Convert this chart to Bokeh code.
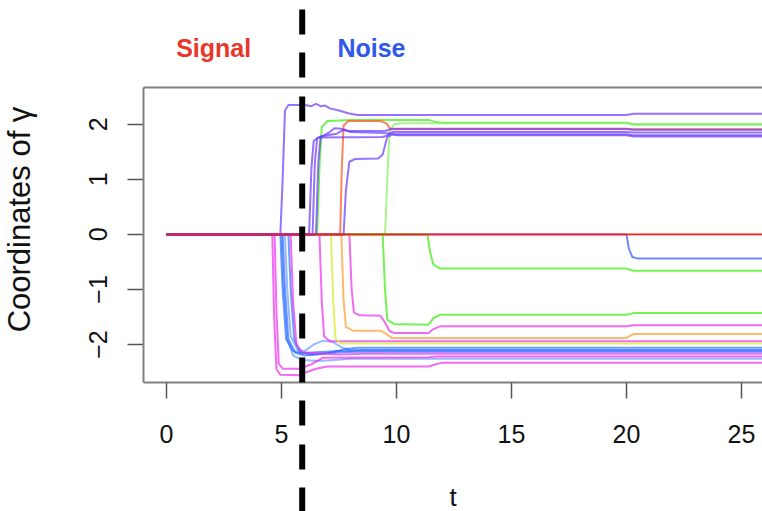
from bokeh.plotting import figure
from bokeh.models import Range1d, FixedTicker, LinearAxis, Span, Label
from bokeh.embed import file_html
from bokeh.resources import INLINE

FONT = "Liberation Sans"

# ---------------- data ----------------
x_ticks = [0, 5, 10, 15, 20, 25]
y_ticks = [-2, -1, 0, 1, 2]
split_t = 5.9            # signal / noise boundary

zero_t = [0, 26]
zero_y = [0, 0]

purple_paths = [
    ([0, 4.95, 5.05, 5.15, 5.3, 6.0, 6.3, 6.5, 6.7, 6.9, 7.1, 7.5, 7.9, 8.3, 20.0, 20.3, 26],
     [0, 0, 1.0, 2.25, 2.35, 2.35, 2.33, 2.37, 2.33, 2.34, 2.29, 2.25, 2.20, 2.17, 2.17, 2.19, 2.19]),
    ([0, 6.2, 6.3, 6.4, 6.6, 9.4, 9.6, 9.8, 20.0, 20.3, 26],
     [0, 0, 1.2, 1.70, 1.76, 1.77, 1.80, 1.86, 1.86, 1.85, 1.85]),
    ([0, 6.35, 6.45, 6.55, 6.8, 7.1, 7.3, 7.6, 7.9, 9.5, 9.8, 20.0, 20.3, 26],
     [0, 0, 1.3, 1.75, 1.79, 1.86, 1.93, 1.92, 1.88, 1.88, 1.92, 1.92, 1.90, 1.90]),
    ([0, 6.5, 6.6, 6.7, 7.0, 7.4, 7.7, 8.0, 9.5, 9.8, 10.0, 20.0, 20.3, 26],
     [0, 0, 1.3, 1.78, 1.80, 1.83, 1.90, 1.86, 1.84, 1.83, 1.80, 1.80, 1.78, 1.78]),
    ([0, 7.7, 7.8, 7.95, 8.2, 9.2, 9.4, 9.6, 9.9, 20.0, 20.3, 26],
     [0, 0, 0.8, 1.32, 1.37, 1.38, 1.45, 1.78, 1.82, 1.82, 1.80, 1.80]),
]

green_paths = [
    ([0, 6.55, 6.65, 6.75, 7.0, 8.0, 11.4, 11.7, 12.0, 20.0, 20.3, 26],
     [0, 0, 1.2, 1.95, 2.06, 2.08, 2.08, 2.04, 2.03, 2.03, 2.00, 2.00]),
    ([0, 11.35, 11.45, 11.6, 11.9, 20.0, 20.3, 26],
     [0, 0, -0.3, -0.55, -0.62, -0.62, -0.66, -0.66]),
    ([0, 9.4, 9.5, 9.6, 9.9, 11.4, 11.6, 11.9, 20.0, 20.3, 26],
     [0, 0, -1.0, -1.55, -1.63, -1.64, -1.52, -1.46, -1.46, -1.43, -1.43]),
]

light_green_paths = [
    ([0, 9.5, 9.6, 9.7, 9.9, 10.3, 20.0, 20.3, 26],
     [0, 0, 1.0, 1.9, 2.0, 2.02, 2.02, 1.99, 1.99]),
]

tomato_paths = [
    ([0, 7.55, 7.62, 7.7, 7.9, 9.3, 9.55, 9.75, 20.0, 26],
     [0, 0, 1.2, 1.98, 2.06, 2.06, 2.02, 1.91, 1.91, 1.91]),
]

orange_paths = [
    ([0, 7.6, 7.7, 7.8, 8.1, 9.3, 9.6, 9.8, 20.0, 20.3, 26],
     [0, 0, -1.2, -1.68, -1.75, -1.75, -1.82, -1.88, -1.88, -1.81, -1.81]),
]

yellow_paths = [
    ([0, 7.15, 7.25, 7.35, 7.6, 20.0, 26],
     [0, 0, -1.2, -1.9, -1.98, -1.98, -1.98]),
]

magenta_paths = [
    ([0, 6.65, 6.75, 6.85, 7.1, 20.0, 26],
     [0, 0, -1.2, -1.85, -1.94, -1.94, -1.94]),
    ([0, 7.95, 8.05, 8.15, 8.4, 9.3, 9.5, 9.7, 9.9, 11.4, 11.6, 11.9, 20.0, 20.3, 26],
     [0, 0, -1.0, -1.42, -1.47, -1.48, -1.60, -1.76, -1.79, -1.79, -1.72, -1.67, -1.67, -1.65, -1.65]),
    ([0, 4.6, 4.68, 4.78, 4.95, 5.8, 6.1, 6.5, 7.0, 11.4, 11.7, 12.0, 20.0, 26],
     [0, 0, -1.5, -2.45, -2.55, -2.56, -2.50, -2.44, -2.40, -2.40, -2.36, -2.33, -2.33, -2.33]),
    ([0, 4.7, 4.78, 4.88, 5.05, 5.8, 6.3, 6.8, 11.4, 11.7, 20.0, 26],
     [0, 0, -1.4, -2.35, -2.44, -2.44, -2.36, -2.24, -2.23, -2.22, -2.22, -2.22]),
    ([0, 5.4, 5.5, 5.65, 5.9, 6.5, 7.5, 8.5, 20.0, 26],
     [0, 0, -1.2, -2.0, -2.14, -2.16, -2.18, -2.17, -2.17, -2.17]),
]

blue_paths = [
    ([0, 4.95, 5.05, 5.2, 5.5, 5.9, 6.5, 7.5, 8.5, 20.0, 26],
     [0, 0, -1.0, -1.9, -2.12, -2.16, -2.14, -2.12, -2.10, -2.10, -2.10]),
    ([0, 5.05, 5.15, 5.3, 5.6, 6.0, 6.6, 7.2, 7.8, 8.3, 20.0, 26],
     [0, 0, -1.0, -1.9, -2.15, -2.20, -2.18, -2.14, -2.08, -2.06, -2.06, -2.06]),
    ([0, 5.3, 5.4, 5.55, 5.8, 6.2, 7.0, 7.6, 8.2, 20.0, 26],
     [0, 0, -1.0, -1.9, -2.14, -2.18, -2.16, -2.14, -2.13, -2.13, -2.13]),
]

light_blue_paths = [
    ([0, 5.15, 5.25, 5.4, 5.7, 6.0, 6.4, 6.8, 7.2, 7.6, 8.0, 20.0, 26],
     [0, 0, -1.0, -1.85, -2.10, -2.12, -2.00, -1.93, -1.95, -2.05, -2.11, -2.11, -2.11]),
    ([0, 5.0, 5.1, 5.25, 5.5, 5.9, 6.6, 7.3, 8.0, 20.0, 26],
     [0, 0, -1.0, -1.9, -2.20, -2.28, -2.30, -2.28, -2.26, -2.26, -2.26]),
]

royal_paths = [
    ([0, 20.0, 20.1, 20.25, 20.5, 26],
     [0, 0, -0.25, -0.41, -0.44, -0.44]),
]

# plotting box limits (data units)
box_x = (-1.0, 26.0)
box_y = (-2.69, 2.67)

# ---------------- figure ----------------
# The frame fills the whole canvas; axes are pinned to the box edges.
p = figure(width=762, height=511, output_backend="svg", toolbar_location=None,
           x_range=Range1d(-7.2174, 25.913), y_range=Range1d(-5.0345, 4.2496),
           min_border_left=0, min_border_right=0, min_border_top=0,
           min_border_bottom=0)
p.outline_line_color = None
p.xgrid.visible = False
p.ygrid.visible = False
p.background_fill_color = "white"
p.border_fill_color = "white"

BOX = "#808080"
for ax in (p.xaxis[0], p.yaxis[0]):
    ax.axis_line_color = BOX
    ax.axis_line_width = 2
    ax.major_tick_line_color = "#555555"
    ax.major_tick_line_width = 1.5
    ax.major_tick_in = 0
    ax.major_tick_out = 16
    ax.minor_tick_in = 0
    ax.minor_tick_out = 0
    ax.major_label_text_font = FONT
    ax.major_label_text_font_size = "25px"
    ax.major_label_text_color = "#111111"
    ax.axis_label_text_font = FONT
    ax.axis_label_text_font_style = "normal"
    ax.axis_label_text_color = "#111111"

xa = p.xaxis[0]
xa.ticker = FixedTicker(ticks=x_ticks)
xa.fixed_location = box_y[0]
xa.bounds = box_x
xa.major_label_standoff = 27
xa.axis_label = "t"
xa.axis_label_text_font_size = "26px"
xa.axis_label_standoff = 35

ya = p.yaxis[0]
ya.ticker = FixedTicker(ticks=y_ticks)
ya.fixed_location = box_x[0]
ya.bounds = (box_y[0], box_y[1] + 0.56)   # label centred a little above the box centre
ya.axis_line_color = None
ya.major_label_orientation = "vertical"
ya.major_label_standoff = 20
ya.axis_label = "Coordinates of γ"
ya.axis_label_text_font_size = "31px"
ya.axis_label_standoff = 50

# left border of the box
left_border = LinearAxis(ticker=FixedTicker(ticks=[]), major_label_text_font_size="0px",
                         major_tick_in=0, major_tick_out=0, minor_tick_in=0, minor_tick_out=0,
                         axis_line_color=BOX, axis_line_width=2,
                         fixed_location=box_x[0], bounds=box_y)
p.add_layout(left_border, "left")

# top border of the box
top_border = LinearAxis(ticker=FixedTicker(ticks=[]), major_label_text_font_size="0px",
                        major_tick_in=0, major_tick_out=0, minor_tick_in=0, minor_tick_out=0,
                        axis_line_color=BOX, axis_line_width=2,
                        fixed_location=box_y[1], bounds=box_x)
p.add_layout(top_border, "above")

def draw(paths, color, alpha, width=2.0):
    for ts, ys in paths:
        p.line(ts, ys, line_color=color, line_alpha=alpha, line_width=width)

draw(light_blue_paths, "#5d93ff", 0.65)
draw(blue_paths, "#1f66ff", 0.65)
draw(magenta_paths, "#ee2cee", 0.7)
draw(yellow_paths, "#d6ee30", 0.75)
draw(orange_paths, "#ff9a30", 0.7)
draw(royal_paths, "#3f63f2", 0.75)
draw(green_paths, "#45ee1a", 0.75)
draw(light_green_paths, "#8cf06a", 0.75)
draw(tomato_paths, "#ff5a2a", 0.75)
draw(purple_paths, "#6a38ff", 0.7)
p.line(zero_t, zero_y, line_color="#ff1a1a", line_width=1.8)

# dashed separator between signal and noise
sep = Span(location=split_t, dimension="height", line_color="black", line_width=6,
           line_dash="25 18 25 19", line_dash_offset=78, level="overlay")
p.add_layout(sep)

p.add_layout(Label(x=2.05, y=3.38, text="Signal", text_align="center", text_baseline="middle",
                   text_font=FONT, text_font_size="25px", text_font_style="bold",
                   text_color="#e8362a"))
p.add_layout(Label(x=8.91, y=3.38, text="Noise", text_align="center", text_baseline="middle",
                   text_font=FONT, text_font_size="25px", text_font_style="bold",
                   text_color="#2f57ea"))

open("out.html", "w").write(file_html(p, INLINE))
